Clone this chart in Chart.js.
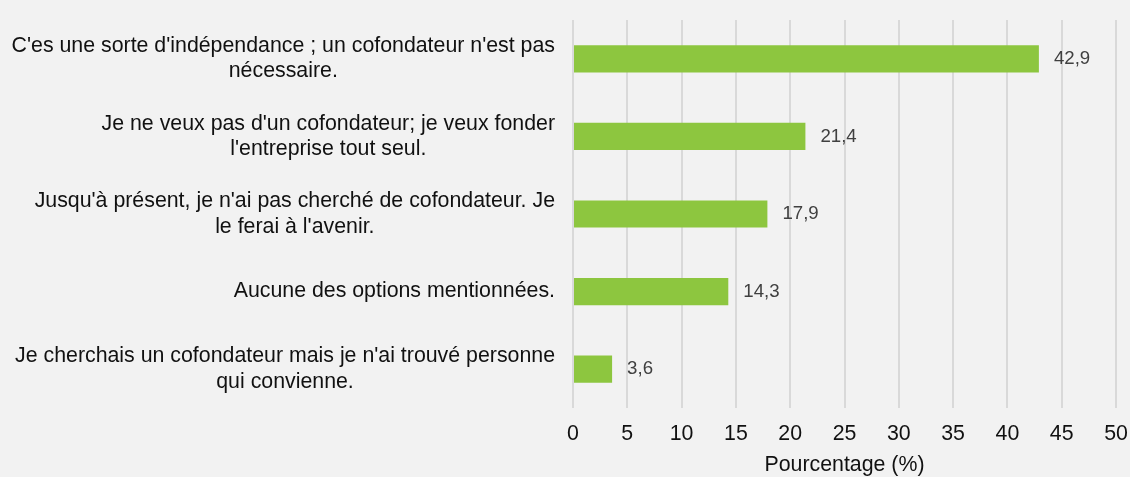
<!DOCTYPE html>
<html>
<head>
<meta charset="utf-8">
<script src="https://cdn.jsdelivr.net/npm/chart.js@4/dist/chart.umd.min.js"></script>
<style>
  html, body { margin: 0; padding: 0; background: #f2f2f2; }
  #wrap { width: 1130px; height: 477px; }
</style>
</head>
<body>
<div id="wrap"><canvas id="myChart"></canvas></div>
<script>
// Catégories (une ligne de texte par élément)
var categories = [
  ["C'es une sorte d'indépendance ; un cofondateur n'est pas", "nécessaire."],
  ["Je ne veux pas d'un cofondateur; je veux fonder", "l'entreprise tout seul."],
  ["Jusqu'à présent, je n'ai pas cherché de cofondateur. Je", "le ferai à l'avenir."],
  ["Aucune des options mentionnées."],
  ["Je cherchais un cofondateur mais je n'ai trouvé personne", "qui convienne."]
];
// Valeurs en pourcentage
var values = [42.9, 21.4, 17.9, 14.3, 3.6];
var axisTitle = 'Pourcentage (%)';

var fontFamily = "'Liberation Sans', Arial, sans-serif";

// Fond gris clair
var bgPlugin = {
  id: 'bg',
  beforeDraw: function(chart) {
    var c = chart.ctx;
    c.save();
    c.fillStyle = '#f2f2f2';
    c.fillRect(0, 0, chart.width, chart.height);
    c.restore();
  }
};

// Étiquettes de catégories : bloc aligné à droite, lignes centrées
var catLabels = {
  id: 'catLabels',
  afterDraw: function(chart) {
    var c = chart.ctx;
    var y = chart.scales.y;
    var right = chart.chartArea.left - 18;
    var lh = 25.4;
    c.save();
    c.font = '21.33px ' + fontFamily;
    c.fillStyle = '#111';
    c.textAlign = 'center';
    c.textBaseline = 'middle';
    categories.forEach(function(lines, i) {
      var widest = 0;
      lines.forEach(function(l) { widest = Math.max(widest, c.measureText(l).width); });
      var cx = right - widest / 2;
      var py = y.getPixelForTick(i);
      lines.forEach(function(l, j) {
        c.fillText(l, cx, py + (j - (lines.length - 1) / 2) * lh);
      });
    });
    c.restore();
  }
};

// Valeurs au bout des barres
var valueLabels = {
  id: 'valueLabels',
  afterDatasetsDraw: function(chart) {
    var c = chart.ctx;
    var meta = chart.getDatasetMeta(0);
    c.save();
    c.font = '18.67px ' + fontFamily;
    c.fillStyle = '#404040';
    c.textAlign = 'left';
    c.textBaseline = 'middle';
    meta.data.forEach(function(bar, i) {
      c.fillText(values[i].toFixed(1).replace('.', ','), bar.x + 15, bar.y);
    });
    c.restore();
  }
};

var ctx = document.getElementById('myChart').getContext('2d');
var chart = new Chart(ctx, {
  type: 'bar',
  data: {
    labels: categories.map(function(l) { return l.join(' '); }),
    datasets: [{
      data: values,
      backgroundColor: '#8dc63f',
      borderWidth: 0,
      categoryPercentage: 0.7,
      barPercentage: 0.5
    }]
  },
  options: {
    indexAxis: 'y',
    responsive: true,
    maintainAspectRatio: false,
    animation: false,
    layout: { padding: { top: 20, right: 14, bottom: 0, left: 0 } },
    plugins: {
      legend: { display: false },
      tooltip: { enabled: false }
    },
    scales: {
      x: {
        min: 0,
        max: 50,
        ticks: {
          stepSize: 5,
          padding: 13,
          color: '#111',
          font: { family: fontFamily, size: 21.33 }
        },
        grid: { color: '#d9d9d9', lineWidth: 2, drawTicks: false },
        border: { display: false },
        title: {
          display: true,
          text: axisTitle,
          color: '#111',
          padding: 0,
          font: { family: fontFamily, size: 21.33, lineHeight: 1.1 }
        },
        afterFit: function(scale) {
          scale.height = 69;
          scale.paddingLeft = 0;
          scale.paddingRight = 0;
        }
      },
      y: {
        ticks: { display: false },
        grid: { display: false },
        border: { display: false },
        afterFit: function(scale) { scale.width = 573; }
      }
    }
  },
  plugins: [bgPlugin, catLabels, valueLabels]
});
</script>
</body>
</html>
